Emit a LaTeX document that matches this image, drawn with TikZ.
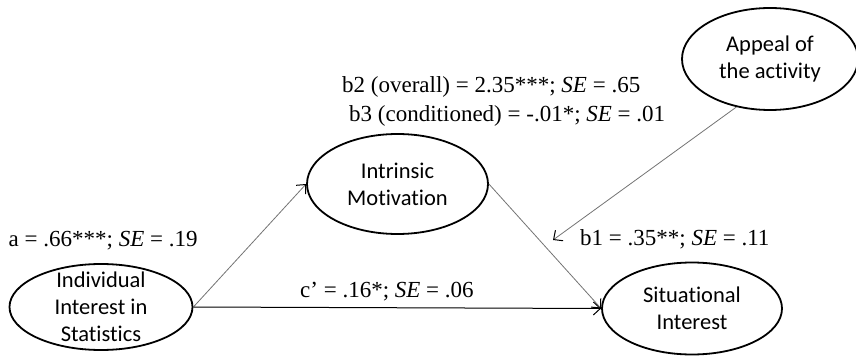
\documentclass[tikz,border=0pt]{standalone}
\usepackage{fontspec}
\setmainfont{Liberation Serif}
\newfontfamily\nodefont[Ligatures=NoCommon]{Carlito}
\usetikzlibrary{shapes.geometric,arrows.meta}
\begin{document}
\begin{tikzpicture}[x=1pt,y=-1pt,
  var/.style={ellipse,draw=black,line width=1.8pt,inner sep=0pt},
  vartext/.style={font=\nodefont\fontsize{22.5}{27}\selectfont,align=center},
  lab/.style={font=\fontsize{23}{27}\selectfont,anchor=base west,inner sep=0pt},
  grayarrow/.style={draw=black!55,line width=0.8pt,-{Straight Barb[length=7pt,width=13pt,line width=1pt,color=black]}},
  blackarrow/.style={draw=black,line width=1pt,-{Straight Barb[length=7pt,width=13pt,line width=1pt]}}
]
\useasboundingbox (0,0) rectangle (856,358);
\node[var,minimum width=183pt,minimum height=86pt,label={[vartext]center:Individual\\Interest in\\Statistics}] (ind) at (101,307) {};
\node[var,minimum width=181pt,minimum height=100pt,label={[vartext]center:Intrinsic\\Motivation}] (intr) at (397.5,184) {};
\node[var,minimum width=180pt,minimum height=92pt,label={[vartext]center:Situational\\Interest}] (sit) at (692,308.5) {};
\node[var,minimum width=176pt,minimum height=102pt,label={[vartext]center:Appeal of\\the activity}] (app) at (770,59) {};
\coordinate (mod) at (553,240);

\draw[grayarrow] (ind.east) -- (intr.west);
\draw[blackarrow] (ind.east) -- (sit.west);
\draw[grayarrow] (intr.east) -- (sit.west);
\draw[grayarrow] (app.235) -- (mod);

\node[lab] (la) at (8.5,246) {a = .66***; \textit{SE} = .19};
\node[lab] (lc) at (300,297) {c’ = .16*; \textit{SE} = .06};
\node[lab] (lb1) at (580,245) {b1 = .35**; \textit{SE} = .11};
\node[lab] (lb2) at (342,93) {b2 (overall) = 2.35***; \textit{SE} = .65};
\node[lab] (lb3) at (349,122) {b3 (conditioned) = -.01*; \textit{SE} = .01};
\end{tikzpicture}
\end{document}
